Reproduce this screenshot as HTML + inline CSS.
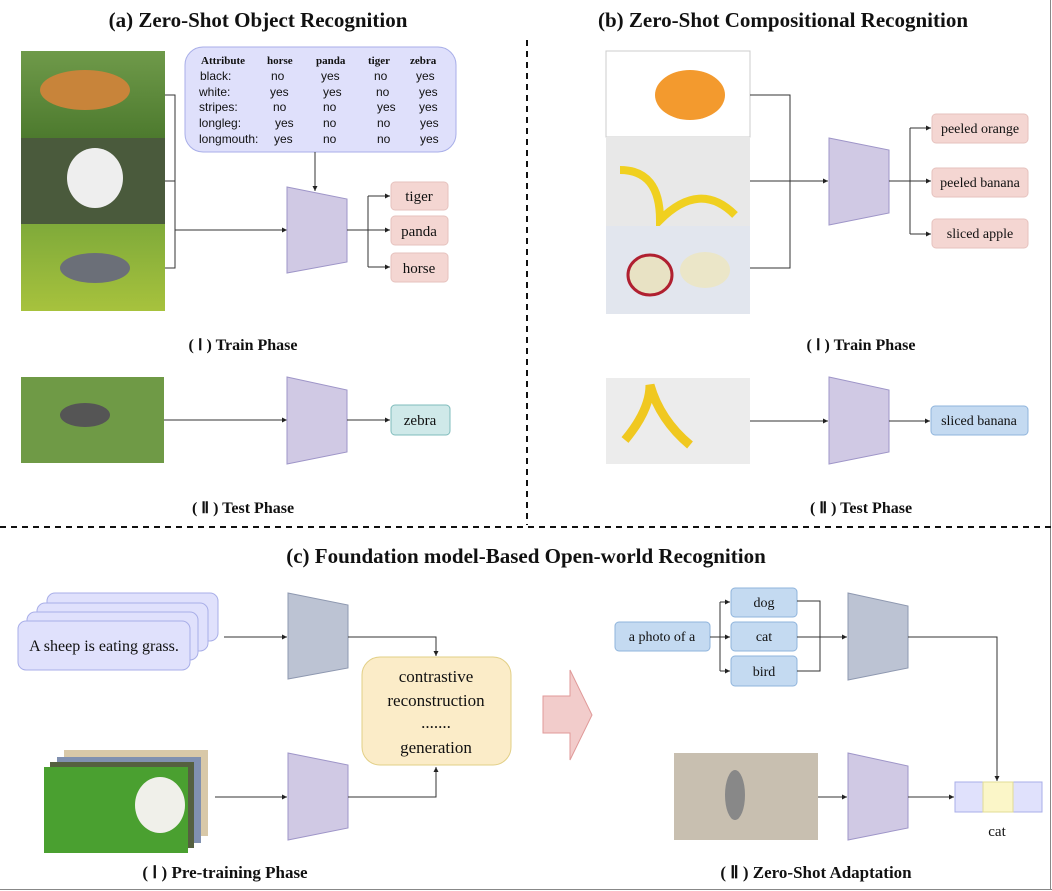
<!DOCTYPE html>
<html><head><meta charset="utf-8"><style>
html,body{margin:0;padding:0;background:#fff}
svg{display:block}
.t{font-family:"Liberation Serif",serif;font-weight:bold;fill:#111}
.s{font-family:"Liberation Serif",serif;fill:#111}
.a{font-family:"Liberation Sans",sans-serif;fill:#111;font-size:12px}
.ab{font-family:"Liberation Serif",serif;font-weight:bold;font-size:11px;fill:#111}
</style></head><body>
<svg width="1052" height="891" viewBox="0 0 1052 891" xmlns="http://www.w3.org/2000/svg">
<defs>
<marker id="ar" markerWidth="6" markerHeight="6" refX="5" refY="3" orient="auto" markerUnits="userSpaceOnUse"><path d="M0,0.5 L5,3 L0,5.5z" fill="#222"/></marker>
<linearGradient id="grass" x1="0" y1="0" x2="0" y2="1"><stop offset="0" stop-color="#6f9a4a"/><stop offset="1" stop-color="#4d7a2e"/></linearGradient>
<linearGradient id="horse" x1="0" y1="0" x2="0" y2="1"><stop offset="0" stop-color="#7faa3a"/><stop offset="1" stop-color="#a7c23d"/></linearGradient>
</defs>
<line x1="0" y1="889.5" x2="1052" y2="889.5" stroke="#888"/>
<line x1="1050.5" y1="0" x2="1050.5" y2="890" stroke="#888"/>
<!-- dividers -->
<line x1="527" y1="40" x2="527" y2="525" stroke="#111" stroke-width="2" stroke-dasharray="6,5"/>
<line x1="0" y1="527" x2="1052" y2="527" stroke="#111" stroke-width="2" stroke-dasharray="6,5"/>

<text class="t" x="258" y="27" font-size="21" text-anchor="middle">(a) Zero-Shot Object Recognition</text>
<text class="t" x="783" y="27" font-size="21" text-anchor="middle">(b) Zero-Shot Compositional Recognition</text>

<!-- (a) images -->
<rect x="21" y="51" width="144" height="87" fill="url(#grass)"/>
<ellipse cx="85" cy="90" rx="45" ry="20" fill="#c8843a"/>
<rect x="21" y="138" width="144" height="86" fill="#4a5a3c"/>
<ellipse cx="95" cy="178" rx="28" ry="30" fill="#eee"/>
<rect x="21" y="224" width="144" height="87" fill="url(#horse)"/>
<ellipse cx="95" cy="268" rx="35" ry="15" fill="#6b6f78"/>
<polyline points="165,95 175,95 175,268 165,268" fill="none" stroke="#333"/>
<line x1="165" y1="181" x2="175" y2="181" stroke="#333"/>
<line x1="175" y1="230" x2="287" y2="230" stroke="#333" marker-end="url(#ar)"/>
<rect x="185" y="47" width="271" height="105" rx="18" fill="#dfe0fb" stroke="#a8aee8"/>
<g class="ab"><text x="201" y="64">Attribute</text><text x="267" y="64">horse</text><text x="316" y="64">panda</text><text x="368" y="64">tiger</text><text x="410" y="64">zebra</text></g>
<g class="a">
<text x="200" y="80">black:</text><text x="271" y="80">no</text><text x="321" y="80">yes</text><text x="374" y="80">no</text><text x="416" y="80">yes</text>
<text x="199" y="96">white:</text><text x="270" y="96">yes</text><text x="323" y="96">yes</text><text x="376" y="96">no</text><text x="419" y="96">yes</text>
<text x="199" y="111">stripes:</text><text x="273" y="111">no</text><text x="323" y="111">no</text><text x="377" y="111">yes</text><text x="419" y="111">yes</text>
<text x="199" y="127">longleg:</text><text x="275" y="127">yes</text><text x="323" y="127">no</text><text x="377" y="127">no</text><text x="420" y="127">yes</text>
<text x="199" y="143">longmouth:</text><text x="274" y="143">yes</text><text x="323" y="143">no</text><text x="377" y="143">no</text><text x="420" y="143">yes</text>
</g>
<line x1="315" y1="152" x2="315" y2="191" stroke="#333" marker-end="url(#ar)"/>
<polygon points="287,187 347,199 347,262 287,273" fill="#d0c9e4" stroke="#9e95c8"/>
<polyline points="347,230 368,230" fill="none" stroke="#333"/>
<polyline points="368,196 368,267" fill="none" stroke="#333"/>
<line x1="368" y1="196" x2="390" y2="196" stroke="#333" marker-end="url(#ar)"/>
<line x1="368" y1="230" x2="390" y2="230" stroke="#333" marker-end="url(#ar)"/>
<line x1="368" y1="267" x2="390" y2="267" stroke="#333" marker-end="url(#ar)"/>
<g fill="#f4d6d2" stroke="#e6c2be"><rect x="391" y="182" width="57" height="28" rx="4"/><rect x="391" y="216" width="57" height="29" rx="4"/><rect x="391" y="253" width="57" height="29" rx="4"/></g>
<g class="s" font-size="15" text-anchor="middle"><text x="419" y="201">tiger</text><text x="419" y="236">panda</text><text x="419" y="273">horse</text></g>
<text class="t" x="243" y="350" font-size="16" text-anchor="middle">( Ⅰ ) Train Phase</text>

<rect x="21" y="377" width="143" height="86" fill="#6f9a46"/>
<ellipse cx="85" cy="415" rx="25" ry="12" fill="#555"/>
<line x1="164" y1="420" x2="287" y2="420" stroke="#333" marker-end="url(#ar)"/>
<polygon points="287,377 347,390 347,452 287,464" fill="#d0c9e4" stroke="#9e95c8"/>
<line x1="347" y1="420" x2="390" y2="420" stroke="#333" marker-end="url(#ar)"/>
<rect x="391" y="405" width="59" height="30" rx="4" fill="#cfe9e9" stroke="#7fbcbc"/>
<text class="s" x="420" y="425" font-size="15" text-anchor="middle">zebra</text>
<text class="t" x="243" y="513" font-size="16" text-anchor="middle">( Ⅱ ) Test Phase</text>

<!-- (b) -->
<rect x="606" y="51" width="144" height="86" fill="#fff" stroke="#ccc"/>
<ellipse cx="690" cy="95" rx="35" ry="25" fill="#f39a2e"/>
<rect x="606" y="137" width="144" height="89" fill="#e8e8e8"/>
<path d="M620,170 Q660,170 660,220 Q700,180 735,215" stroke="#f0d020" stroke-width="8" fill="none"/>
<rect x="606" y="226" width="144" height="88" fill="#e2e6ee"/>
<ellipse cx="650" cy="275" rx="22" ry="20" fill="#e8e2c4" stroke="#b02030" stroke-width="3"/>
<ellipse cx="705" cy="270" rx="25" ry="18" fill="#ebe6c8"/>
<polyline points="750,95 790,95 790,268 750,268" fill="none" stroke="#333"/>
<line x1="750" y1="181" x2="828" y2="181" stroke="#333" marker-end="url(#ar)"/>
<polygon points="829,138 889,150 889,213 829,225" fill="#d0c9e4" stroke="#9e95c8"/>
<line x1="889" y1="181" x2="931" y2="181" stroke="#333" marker-end="url(#ar)"/>
<line x1="910" y1="128" x2="910" y2="234" stroke="#333"/>
<line x1="910" y1="128" x2="931" y2="128" stroke="#333" marker-end="url(#ar)"/>
<line x1="910" y1="234" x2="931" y2="234" stroke="#333" marker-end="url(#ar)"/>
<g fill="#f4d6d2" stroke="#e6c2be"><rect x="932" y="114" width="96" height="29" rx="4"/><rect x="932" y="168" width="96" height="29" rx="4"/><rect x="932" y="219" width="96" height="29" rx="4"/></g>
<g class="s" font-size="14" text-anchor="middle"><text x="980" y="133">peeled orange</text><text x="980" y="187">peeled banana</text><text x="980" y="238">sliced apple</text></g>
<text class="t" x="861" y="350" font-size="16" text-anchor="middle">( Ⅰ ) Train Phase</text>

<rect x="606" y="378" width="144" height="86" fill="#ececec"/>
<path d="M625,440 Q650,410 650,385 Q660,420 690,445" stroke="#f0c820" stroke-width="9" fill="none"/>
<line x1="750" y1="421" x2="828" y2="421" stroke="#333" marker-end="url(#ar)"/>
<polygon points="829,377 889,390 889,452 829,464" fill="#d0c9e4" stroke="#9e95c8"/>
<line x1="889" y1="421" x2="930" y2="421" stroke="#333" marker-end="url(#ar)"/>
<rect x="931" y="406" width="97" height="29" rx="4" fill="#c4daf1" stroke="#8fb4dc"/>
<text class="s" x="979" y="425" font-size="14" text-anchor="middle">sliced banana</text>
<text class="t" x="861" y="513" font-size="16" text-anchor="middle">( Ⅱ ) Test Phase</text>

<!-- (c) -->
<text class="t" x="526" y="563" font-size="21" text-anchor="middle">(c) Foundation model-Based Open-world Recognition</text>
<g fill="#e0e1fc" stroke="#a8aee8">
<rect x="47" y="593" width="171" height="48" rx="8"/>
<rect x="37" y="603" width="171" height="48" rx="8"/>
<rect x="27" y="612" width="171" height="48" rx="8"/>
<rect x="18" y="621" width="172" height="49" rx="8"/>
</g>
<text class="s" x="104" y="651" font-size="16" text-anchor="middle">A sheep is eating grass.</text>
<line x1="224" y1="637" x2="287" y2="637" stroke="#333" marker-end="url(#ar)"/>
<polygon points="288,593 348,605 348,668 288,679" fill="#bcc3d3" stroke="#8e98b0"/>
<polyline points="348,637 436,637 436,656" fill="none" stroke="#333" marker-end="url(#ar)"/>
<rect x="362" y="657" width="149" height="108" rx="18" fill="#fbecc8" stroke="#e2cf86"/>
<g class="s" font-size="17" text-anchor="middle"><text x="436" y="682">contrastive</text><text x="436" y="706">reconstruction</text><text x="436" y="728">.......</text><text x="436" y="753">generation</text></g>
<rect x="64" y="750" width="144" height="86" fill="#d8c8a8"/>
<rect x="57" y="757" width="144" height="86" fill="#8090b0"/>
<rect x="50" y="762" width="144" height="86" fill="#556040"/>
<rect x="44" y="767" width="144" height="86" fill="#4aa030"/>
<ellipse cx="160" cy="805" rx="25" ry="28" fill="#f0f0ea"/>
<line x1="215" y1="797" x2="287" y2="797" stroke="#333" marker-end="url(#ar)"/>
<polygon points="288,753 348,765 348,828 288,840" fill="#d0c9e4" stroke="#9e95c8"/>
<polyline points="348,797 436,797 436,767" fill="none" stroke="#333" marker-end="url(#ar)"/>
<polygon points="543,696 570,696 570,670 592,715 570,760 570,733 543,733" fill="#f2cccb" stroke="#e09a99"/>
<rect x="615" y="622" width="95" height="29" rx="4" fill="#c4daf1" stroke="#8fb4dc"/>
<text class="s" x="662" y="641" font-size="14" text-anchor="middle">a photo of a</text>
<line x1="710" y1="637" x2="730" y2="637" stroke="#333" marker-end="url(#ar)"/>
<line x1="720" y1="602" x2="720" y2="671" stroke="#333"/>
<line x1="720" y1="602" x2="730" y2="602" stroke="#333" marker-end="url(#ar)"/>
<line x1="720" y1="671" x2="730" y2="671" stroke="#333" marker-end="url(#ar)"/>
<g fill="#c4daf1" stroke="#8fb4dc"><rect x="731" y="588" width="66" height="29" rx="4"/><rect x="731" y="622" width="66" height="29" rx="4"/><rect x="731" y="656" width="66" height="30" rx="4"/></g>
<g class="s" font-size="14" text-anchor="middle"><text x="764" y="607">dog</text><text x="764" y="641">cat</text><text x="764" y="676">bird</text></g>
<polyline points="797,601 820,601 820,671 797,671" fill="none" stroke="#333"/>
<line x1="797" y1="637" x2="847" y2="637" stroke="#333" marker-end="url(#ar)"/>
<polygon points="848,593 908,606 908,668 848,680" fill="#bcc3d3" stroke="#8e98b0"/>
<polyline points="908,637 997,637 997,781" fill="none" stroke="#333" marker-end="url(#ar)"/>
<rect x="674" y="753" width="144" height="87" fill="#c8bfb0"/>
<ellipse cx="735" cy="795" rx="10" ry="25" fill="#888"/>
<line x1="818" y1="797" x2="847" y2="797" stroke="#333" marker-end="url(#ar)"/>
<polygon points="848,753 908,766 908,828 848,840" fill="#d0c9e4" stroke="#9e95c8"/>
<line x1="908" y1="797" x2="954" y2="797" stroke="#333" marker-end="url(#ar)"/>
<rect x="955" y="782" width="87" height="30" fill="#e0e1fc" stroke="#a8aee8"/>
<rect x="983" y="782" width="30" height="30" fill="#fbf6c8" stroke="#e2dc96"/>
<text class="s" x="997" y="836" font-size="15" text-anchor="middle">cat</text>
<text class="t" x="225" y="878" font-size="17" text-anchor="middle">( Ⅰ ) Pre-training Phase</text>
<text class="t" x="816" y="878" font-size="17" text-anchor="middle">( Ⅱ ) Zero-Shot Adaptation</text>
</svg>
</body></html>
